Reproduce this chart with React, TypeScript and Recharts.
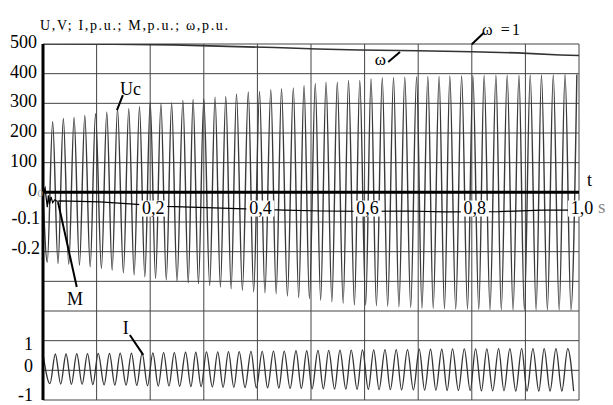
import { LineChart, Line, XAxis, YAxis, CartesianGrid, ReferenceLine, ReferenceDot } from 'recharts'

// time grid (s)
const tTicks = [0, 0.1, 0.2, 0.3, 0.4, 0.5, 0.6, 0.7, 0.8, 0.9, 1.0]
const tLabelValues = [0.2, 0.4, 0.6, 0.8, 1.0]
const tLabelTexts = ['0,2', '0,4', '0,6', '0,8', '1,0']

// left scale: Uc in volts on top, M below zero, I in the bottom band
const uTicks = [500, 400, 300, 200, 100, 0, -100, -200, -300, -400, -500, -600, -700]
const uTickLabels = ['500', '400', '300', '200', '100', '0', '-0.1', '-0.2', '', '', '1', '0', '-1']

// Uc, V: peaks and troughs of each cycle
const ucPeakT = [0.018, 0.038, 0.058, 0.078, 0.098, 0.119, 0.139, 0.160, 0.180, 0.200, 0.220, 0.240, 0.261, 0.280, 0.300, 0.321, 0.341, 0.361, 0.383, 0.404, 0.425, 0.445, 0.467, 0.487, 0.508, 0.528, 0.549, 0.570, 0.591, 0.612, 0.633, 0.654, 0.675, 0.697, 0.718, 0.739, 0.759, 0.781, 0.802, 0.823, 0.845, 0.866, 0.888, 0.909, 0.930, 0.952, 0.974, 0.996]
const ucPeakV = [238, 249, 252, 259, 265, 270, 282, 282, 289, 304, 299, 301, 310, 313, 315, 321, 323, 332, 338, 340, 346, 349, 352, 360, 367, 371, 371, 377, 377, 383, 386, 387, 388, 390, 391, 391, 392, 392, 394, 394, 395, 395, 395, 396, 396, 396, 397, 397]
const ucTroughT = [0.008, 0.028, 0.048, 0.068, 0.088, 0.109, 0.129, 0.150, 0.170, 0.190, 0.210, 0.230, 0.250, 0.271, 0.290, 0.311, 0.331, 0.351, 0.372, 0.393, 0.414, 0.435, 0.456, 0.477, 0.497, 0.518, 0.539, 0.560, 0.581, 0.602, 0.622, 0.643, 0.664, 0.686, 0.707, 0.728, 0.749, 0.770, 0.792, 0.813, 0.834, 0.855, 0.877, 0.898, 0.920, 0.941, 0.963, 0.985]
const ucTroughV = [-235, -240, -243, -246, -251, -257, -262, -271, -278, -285, -290, -295, -300, -305, -308, -314, -319, -325, -330, -336, -339, -342, -350, -355, -358, -364, -369, -374, -380, -380, -382, -384, -386, -388, -391, -391, -393, -394, -394, -395, -396, -396, -397, -397, -397, -396, -396, -396]

// I, p.u.: lags Uc a little
const iLag = 0.005
const iStart = 0.55
const iPeakV = [0.55, 0.55, 0.56, 0.56, 0.57, 0.57, 0.58, 0.58, 0.59, 0.59, 0.60, 0.60, 0.61, 0.61, 0.62, 0.62, 0.63, 0.63, 0.64, 0.64, 0.65, 0.65, 0.66, 0.66, 0.67, 0.67, 0.68, 0.68, 0.69, 0.69, 0.70, 0.70, 0.70, 0.71, 0.71, 0.71, 0.72, 0.72, 0.72, 0.72, 0.73, 0.73, 0.73, 0.73, 0.73, 0.73, 0.73, 0.73]
const iTroughV = [-0.45, -0.46, -0.47, -0.47, -0.48, -0.49, -0.50, -0.50, -0.51, -0.52, -0.53, -0.53, -0.54, -0.55, -0.55, -0.56, -0.57, -0.57, -0.58, -0.59, -0.59, -0.60, -0.61, -0.61, -0.62, -0.62, -0.63, -0.63, -0.64, -0.64, -0.65, -0.65, -0.66, -0.66, -0.67, -0.67, -0.68, -0.68, -0.68, -0.69, -0.69, -0.69, -0.70, -0.70, -0.70, -0.70, -0.70, -0.70]

// M, p.u.
const mT = [0, 0.004, 0.006, 0.008, 0.010, 0.012, 0.015, 0.018, 0.022, 0.026, 0.032, 0.106, 0.162, 0.23, 0.29, 0.377, 0.45, 0.52, 0.6, 0.68, 0.75, 0.85, 0.93, 1.0]
const mV = [0, 0.015, -0.02, -0.05, -0.01, -0.04, -0.015, -0.035, -0.025, -0.03, -0.029, -0.032, -0.039, -0.047, -0.051, -0.056, -0.06, -0.063, -0.064, -0.063, -0.066, -0.065, -0.06, -0.06]

// omega, p.u.
const wT = [0, 0.13, 0.243, 0.345, 0.433, 0.512, 0.59, 0.70, 0.80, 0.885, 0.965, 1.0]
const wV = [1.0, 0.999, 0.997, 0.992, 0.988, 0.983, 0.980, 0.977, 0.974, 0.970, 0.963, 0.961]

const ucData: { t: number; v: number }[] = [{ t: 0, v: 0 }]
const iData: { t: number; v: number }[] = [{ t: 0, v: iStart }]
ucPeakT.forEach((t, k) => {
  ucData.push({ t: ucTroughT[k], v: ucTroughV[k] })
  ucData.push({ t, v: ucPeakV[k] })
  iData.push({ t: ucTroughT[k] + iLag, v: iTroughV[k] })
  iData.push({ t: t + iLag, v: iPeakV[k] })
})
const iDataIn = iData.filter((d) => d.t <= 1)
const mData = mT.map((t, k) => ({ t, v: mV[k] }))
const wData = wT.map((t, k) => ({ t, v: wV[k] }))

const serif = '"Liberation Serif", "DejaVu Serif", serif'
const txt = { fontFamily: serif }

function YTick(props: any) {
  const { x, y, payload } = props
  const v = payload.value
  const label = uTickLabels[uTicks.indexOf(v)]
  if (!label) return <g />
  let dx = -6
  let dy = -2
  if (v === -100 || v === -200) { dx = -3; dy = -4 }
  if (v === -500) { dx = -10; dy = 3 }
  if (v === -600) { dx = -10; dy = -4 }
  if (v === -700) { dx = -10; dy = -5 }
  return (
    <text x={x + dx} y={y + dy} textAnchor="end" dominantBaseline="central" style={txt} fontSize={18} fill="#000">
      {label}
    </text>
  )
}

function tag(text: string, size = 18, fill = '#000', extra: any = {}) {
  return (p: any) => (
    <text x={p.cx} y={p.cy} style={txt} fontSize={size} fill={fill} {...extra}>
      {text}
    </text>
  )
}

function timeTag(text: string) {
  return (p: any) => (
    <g>
      <rect x={p.cx - 11} y={p.cy - 13} width={28} height={16} fill="#fff" />
      <text x={p.cx + 3} y={p.cy} textAnchor="middle" style={txt} fontSize={18} fill="#000">
        {text}
      </text>
    </g>
  )
}

export default function App() {
  return (
    <div style={{ width: 597, height: 397, background: '#fff', fontFamily: serif }}>
      <LineChart width={597} height={397} margin={{ top: 36, right: 26, bottom: 5, left: 0 }} style={txt}>
        <CartesianGrid stroke="#444" strokeWidth={1} />
        <XAxis type="number" dataKey="t" domain={[0, 1]} ticks={tTicks} allowDataOverflow hide />
        <YAxis
          domain={[-700, 500]}
          ticks={uTicks}
          interval={0}
          width={35}
          allowDataOverflow
          tickLine={false}
          tickSize={0}
          tickMargin={0}
          axisLine={{ stroke: '#000', strokeWidth: 3 }}
          tick={<YTick />}
        />
        <YAxis yAxisId="m" domain={[-0.7, 0.5]} allowDataOverflow hide />
        <YAxis yAxisId="i" domain={[-1, 11]} allowDataOverflow hide />
        <YAxis yAxisId="w" domain={[-0.2, 1.0]} allowDataOverflow hide />

        <Line data={ucData} dataKey="v" type="monotone" stroke="#3a3a3a" strokeWidth={1.4} dot={false} activeDot={false} isAnimationActive={false} />
        <Line data={iDataIn} yAxisId="i" dataKey="v" type="monotone" stroke="#333" strokeWidth={1.3} dot={false} activeDot={false} isAnimationActive={false} />
        <Line data={mData} yAxisId="m" dataKey="v" type="linear" stroke="#000" strokeWidth={1.2} dot={false} activeDot={false} isAnimationActive={false} />
        <Line data={wData} yAxisId="w" dataKey="v" type="linear" stroke="#333" strokeWidth={1.6} dot={false} activeDot={false} isAnimationActive={false} />

        <ReferenceLine y={0} stroke="#000" strokeWidth={3} />

        {tLabelValues.map((t, k) => (
          <ReferenceDot key={t} x={t} y={-71.5} r={0} ifOverflow="visible" shape={timeTag(tLabelTexts[k])} />
        ))}

        <ReferenceLine segment={[{ x: 0.149, y: 328 }, { x: 0.138, y: 277 }]} stroke="#000" strokeWidth={2} ifOverflow="visible" />
        <ReferenceLine segment={[{ x: 0.644, y: 439 }, { x: 0.666, y: 473 }]} stroke="#000" strokeWidth={2} ifOverflow="visible" />
        <ReferenceLine segment={[{ x: 0.823, y: 539 }, { x: 0.8, y: 499 }]} stroke="#000" strokeWidth={2} ifOverflow="visible" />
        <ReferenceLine segment={[{ x: 0.063, y: -319 }, { x: 0.028, y: -33 }]} stroke="#000" strokeWidth={2} ifOverflow="visible" />
        <ReferenceLine segment={[{ x: 0.162, y: -481 }, { x: 0.187, y: -548 }]} stroke="#000" strokeWidth={2} ifOverflow="visible" />

        <ReferenceDot x={0} y={500} r={0} ifOverflow="visible" shape={(p: any) => (
          <text x={p.cx - 3} y={p.cy - 14} style={txt} fontSize={14} textLength={188} lengthAdjust="spacing" fill="#000">
            U,V; I,p.u.; M,p.u.; ω,p.u.
          </text>
        )} />
        <ReferenceDot x={0.1437} y={329} r={0} ifOverflow="visible" shape={tag('Uc')} />
        <ReferenceDot x={0.619} y={429} r={0} ifOverflow="visible" shape={tag('ω', 17)} />
        <ReferenceDot x={0.819} y={530} r={0} ifOverflow="visible" shape={tag('ω =1', 16, '#000', { textLength: 38, lengthAdjust: 'spacing' })} />
        <ReferenceDot x={0.0448} y={-380} r={0} ifOverflow="visible" shape={tag('M')} />
        <ReferenceDot x={0.149} y={-478} r={0} ifOverflow="visible" shape={tag('I')} />
        <ReferenceDot x={1.015} y={21} r={0} ifOverflow="visible" shape={tag('t')} />
        <ReferenceDot x={1.0354} y={-71} r={0} ifOverflow="visible" shape={tag('s', 19, '#888')} />
        <ReferenceDot x={-0.0103} y={-16} r={0} ifOverflow="visible" shape={tag('0', 11, '#999')} />
      </LineChart>
    </div>
  )
}
